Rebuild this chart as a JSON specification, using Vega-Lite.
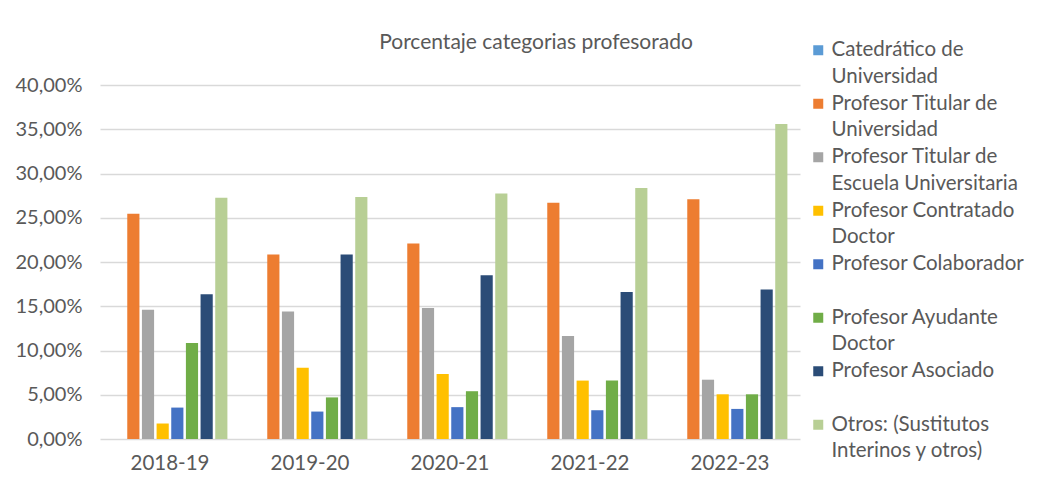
{
  "$schema": "https://vega.github.io/schema/vega-lite/v6.json",
  "autosize": {"type": "none"},
  "width": 700,
  "height": 354,
  "padding": {"left": 100, "top": 85, "right": 252, "bottom": 47},
  "background": "white",
  "title": {
    "text": "Porcentaje categorias profesorado",
    "anchor": "middle",
    "frame": "group",
    "dx": 86,
    "offset": -13,
    "fontSize": 21,
    "font": "Lato",
    "fontWeight": "normal",
    "color": "#595959"
  },
  "data": {
    "values": [
      {"curso": "2018-19", "categoria": "Catedrático de Universidad", "porcentaje": 0},
      {"curso": "2018-19", "categoria": "Profesor Titular de Universidad", "porcentaje": 25.45},
      {"curso": "2018-19", "categoria": "Profesor Titular de Escuela Universitaria", "porcentaje": 14.6},
      {"curso": "2018-19", "categoria": "Profesor Contratado Doctor", "porcentaje": 1.75},
      {"curso": "2018-19", "categoria": "Profesor Colaborador", "porcentaje": 3.55},
      {"curso": "2018-19", "categoria": "Profesor Ayudante Doctor", "porcentaje": 10.85},
      {"curso": "2018-19", "categoria": "Profesor Asociado", "porcentaje": 16.35},
      {"curso": "2018-19", "categoria": "Otros: (Sustitutos Interinos y otros)", "porcentaje": 27.27},
      {"curso": "2019-20", "categoria": "Catedrático de Universidad", "porcentaje": 0},
      {"curso": "2019-20", "categoria": "Profesor Titular de Universidad", "porcentaje": 20.85},
      {"curso": "2019-20", "categoria": "Profesor Titular de Escuela Universitaria", "porcentaje": 14.4},
      {"curso": "2019-20", "categoria": "Profesor Contratado Doctor", "porcentaje": 8.05},
      {"curso": "2019-20", "categoria": "Profesor Colaborador", "porcentaje": 3.1},
      {"curso": "2019-20", "categoria": "Profesor Ayudante Doctor", "porcentaje": 4.7},
      {"curso": "2019-20", "categoria": "Profesor Asociado", "porcentaje": 20.85},
      {"curso": "2019-20", "categoria": "Otros: (Sustitutos Interinos y otros)", "porcentaje": 27.35},
      {"curso": "2020-21", "categoria": "Catedrático de Universidad", "porcentaje": 0},
      {"curso": "2020-21", "categoria": "Profesor Titular de Universidad", "porcentaje": 22.1},
      {"curso": "2020-21", "categoria": "Profesor Titular de Escuela Universitaria", "porcentaje": 14.8},
      {"curso": "2020-21", "categoria": "Profesor Contratado Doctor", "porcentaje": 7.35},
      {"curso": "2020-21", "categoria": "Profesor Colaborador", "porcentaje": 3.6},
      {"curso": "2020-21", "categoria": "Profesor Ayudante Doctor", "porcentaje": 5.4},
      {"curso": "2020-21", "categoria": "Profesor Asociado", "porcentaje": 18.5},
      {"curso": "2020-21", "categoria": "Otros: (Sustitutos Interinos y otros)", "porcentaje": 27.75},
      {"curso": "2021-22", "categoria": "Catedrático de Universidad", "porcentaje": 0},
      {"curso": "2021-22", "categoria": "Profesor Titular de Universidad", "porcentaje": 26.7},
      {"curso": "2021-22", "categoria": "Profesor Titular de Escuela Universitaria", "porcentaje": 11.65},
      {"curso": "2021-22", "categoria": "Profesor Contratado Doctor", "porcentaje": 6.6},
      {"curso": "2021-22", "categoria": "Profesor Colaborador", "porcentaje": 3.25},
      {"curso": "2021-22", "categoria": "Profesor Ayudante Doctor", "porcentaje": 6.6},
      {"curso": "2021-22", "categoria": "Profesor Asociado", "porcentaje": 16.6},
      {"curso": "2021-22", "categoria": "Otros: (Sustitutos Interinos y otros)", "porcentaje": 28.35},
      {"curso": "2022-23", "categoria": "Catedrático de Universidad", "porcentaje": 0},
      {"curso": "2022-23", "categoria": "Profesor Titular de Universidad", "porcentaje": 27.1},
      {"curso": "2022-23", "categoria": "Profesor Titular de Escuela Universitaria", "porcentaje": 6.7},
      {"curso": "2022-23", "categoria": "Profesor Contratado Doctor", "porcentaje": 5.05},
      {"curso": "2022-23", "categoria": "Profesor Colaborador", "porcentaje": 3.4},
      {"curso": "2022-23", "categoria": "Profesor Ayudante Doctor", "porcentaje": 5.05},
      {"curso": "2022-23", "categoria": "Profesor Asociado", "porcentaje": 16.9},
      {"curso": "2022-23", "categoria": "Otros: (Sustitutos Interinos y otros)", "porcentaje": 35.6}
    ]
  },
  "mark": {"type": "bar"},
  "encoding": {
    "x": {
      "field": "curso",
      "type": "nominal",
      "scale": {"paddingInner": 0.18, "paddingOuter": 0.09},
      "axis": {
        "title": null,
        "labelAngle": 0,
        "domain": false,
        "ticks": false,
        "labelFontSize": 20.5,
        "labelFont": "Lato",
        "labelColor": "#595959",
        "labelPadding": 14
      }
    },
    "xOffset": {
      "field": "categoria",
      "type": "nominal",
      "sort": null,
      "scale": {"paddingInner": 0.17, "paddingOuter": 0}
    },
    "y": {
      "field": "porcentaje",
      "type": "quantitative",
      "scale": {"domain": [0, 40]},
      "axis": {
        "title": null,
        "values": [0, 5, 10, 15, 20, 25, 30, 35, 40],
        "labelExpr": "replace(format(datum.value, '.2f'), '.', ',') + '%'",
        "domain": false,
        "ticks": false,
        "grid": true,
        "gridColor": "#D9D9D9",
        "gridWidth": 1.3,
        "labelFontSize": 20,
        "labelFont": "Lato",
        "labelColor": "#595959",
        "labelPadding": 18
      }
    },
    "color": {
      "field": "categoria",
      "type": "nominal",
      "sort": null,
      "scale": {
        "domain": [
          "Catedrático de Universidad",
          "Profesor Titular de Universidad",
          "Profesor Titular de Escuela Universitaria",
          "Profesor Contratado Doctor",
          "Profesor Colaborador",
          "Profesor Ayudante Doctor",
          "Profesor Asociado",
          "Otros: (Sustitutos Interinos y otros)"
        ],
        "range": ["#5B9BD5", "#ED7D31", "#A5A5A5", "#FFC000", "#4472C4", "#70AD47", "#2B4C77", "#B8CF95"]
      },
      "legend": {
        "title": null,
        "orient": "none",
        "legendX": 708,
        "legendY": -45,
        "symbolType": "square",
        "symbolSize": 100,
        "symbolStrokeWidth": 0,
        "labelFontSize": 20.5,
        "labelFont": "Lato",
        "labelColor": "#595959",
        "labelOffset": 3,
        "labelLimit": 300,
        "labelBaseline": "middle",
        "rowPadding": 5.5,
        "encoding": {
          "labels": {"lineHeight": {"value": 26.5}}
        },
        "labelExpr": "datum.label == 'Catedrático de Universidad' ? ['Catedrático de', 'Universidad'] : datum.label == 'Profesor Titular de Universidad' ? ['Profesor Titular de', 'Universidad'] : datum.label == 'Profesor Titular de Escuela Universitaria' ? ['Profesor Titular de', 'Escuela Universitaria'] : datum.label == 'Profesor Contratado Doctor' ? ['Profesor Contratado', 'Doctor'] : datum.label == 'Profesor Ayudante Doctor' ? ['Profesor Ayudante', 'Doctor'] : datum.label == 'Otros: (Sustitutos Interinos y otros)' ? ['Otros: (Sustitutos', 'Interinos y otros)'] : [datum.label, ' ']"
      }
    }
  },
  "config": {
    "view": {"stroke": null}
  }
}
